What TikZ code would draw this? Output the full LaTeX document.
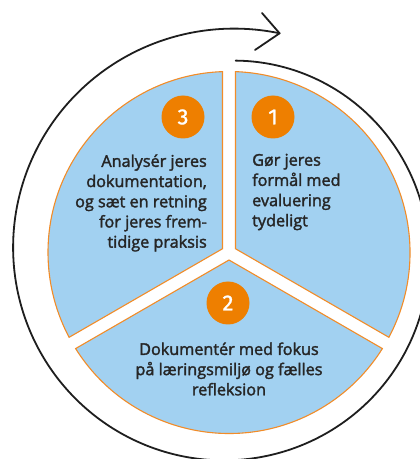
\documentclass[tikz,border=0pt]{standalone}
\usepackage{fontspec}
\setmainfont{Open Sans}
\newfontfamily\txtfont{Open Sans}[FakeBold=2]
\newfontfamily\numfont{Fira Sans}[FakeBold=1.2]
\usetikzlibrary{calc}
\definecolor{wedgeblue}{HTML}{A2D1F1}
\definecolor{wedgeorange}{HTML}{F28C28}
\definecolor{numorange}{HTML}{EE7F00}
\definecolor{txtgray}{HTML}{262626}
\definecolor{arrowblack}{HTML}{1E1E1E}
\begin{document}
\begin{tikzpicture}[x=1pt,y=1pt,
  wedge/.style={fill=wedgeblue,draw=wedgeorange,line width=1.1pt,line join=miter},
  numdot/.style={circle,fill=numorange,minimum size=43pt,inner sep=0pt,text=white,font=\numfont\fontsize{22}{22}\selectfont},
  blocktext/.style={text=txtgray,inner sep=0pt,font=\txtfont\fontsize{16.2}{20.2}\selectfont},
  spiral/.style={draw=arrowblack,line width=1.8pt,line cap=round,line join=round}]
\useasboundingbox (0,0) rectangle (420,459);
\fill[white] (0,0) rectangle (420,459);
\coordinate (C) at (229,206.5);
% wedges
\draw[wedge] ($(C)+(30:7.5)$) -- ($(C)+(-27.94:181)$) arc[start angle=-27.94,end angle=87.94,radius=181] -- cycle;
\draw[wedge] ($(C)+(150:7.5)$) -- ($(C)+(92.06:181)$) arc[start angle=92.06,end angle=207.94,radius=181] -- cycle;
\draw[wedge] ($(C)+(270:7.5)$) -- ($(C)+(212.06:181)$) arc[start angle=212.06,end angle=327.94,radius=181] -- cycle;
% spiral arrow
\draw[spiral] plot[domain=88:-283,samples=300,smooth] ({229+(192+33*(88-\x)/371)*cos(\x)},{206.5+(192+33*(88-\x)/371)*sin(\x)});
\coordinate (tip) at (279.6,425.7);
\coordinate (armA) at (262,446);
\coordinate (armB) at (255,409);
\draw[spiral] (armA) -- (tip) -- (armB);
% numbers
\node[numdot] (n3) at (183,342) {3};
\node[numdot] (n1) at (273,342) {1};
\node[numdot] (n2) at (228,156) {2};
% texts
\node[blocktext,align=right,anchor=east] (t3) at (207,256) {Analysér jeres\\dokumentation,\\og sæt en retning\\for jeres frem-\\tidige praksis};
\node[blocktext,align=left,anchor=west] (t1) at (252,267) {Gør jeres\\formål med\\evaluering\\tydeligt};
\node[blocktext,align=center] (t2) at (229,90) {Dokumentér med fokus\\på læringsmiljø og fælles\\refleksion};
\end{tikzpicture}
\end{document}
